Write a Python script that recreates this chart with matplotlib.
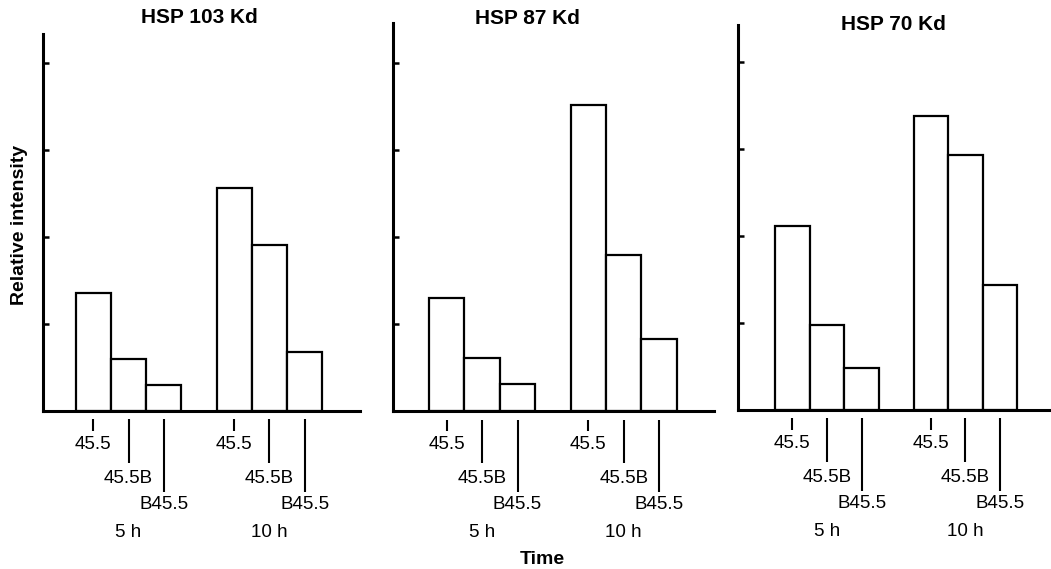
import matplotlib
matplotlib.use("Agg")
import matplotlib.pyplot as plt

plt.rcParams["font.family"] = ["Liberation Sans", "DejaVu Sans"]

titles = ["HSP 103 Kd", "HSP 87 Kd", "HSP 70 Kd"]
treatments = ["45.5", "45.5B", "B45.5"]
times = ["5 h", "10 h"]
hsp103 = [1.35, 0.59, 0.30, 2.56, 1.90, 0.67]
hsp87 = [1.30, 0.61, 0.31, 3.52, 1.79, 0.83]
hsp70 = [2.11, 0.97, 0.48, 3.38, 2.93, 1.43]
panels = [hsp103, hsp87, hsp70]

W, H = 1051, 569
# axes boxes in pixels: left, right, top, baseline
boxes = [(43.3, 360.0, 34.0, 410.7),
         (393.3, 714.3, 22.7, 411.0),
         (738.3, 1051.0, 25.0, 409.7)]
xlims = [(-1.42, 7.57), (-1.51, 7.56), (-1.56, 7.47)]
title_pos = [(199, 17.5), (527, 19), (893, 25)]

pos = [0, 1, 2, 4, 5, 6]
line_end = [-0.23, -0.60, -0.93]
text_y = [-0.39, -0.78, -1.08]
time_y = -1.40

fig = plt.figure(figsize=(W / 100, H / 100), dpi=100)

for k, vals in enumerate(panels):
    l, r, t, b = boxes[k]
    ax = fig.add_axes([l / W, 1 - b / H, (r - l) / W, (b - t) / H])
    ax.bar(pos, vals, width=1.0, color="white", edgecolor="black", lw=1.6)
    ax.set_xlim(*xlims[k])
    unit = (b - t) / 87.0
    ax.set_ylim(0, unit)
    ax.set_yticks([1, 2, 3, 4])
    ax.set_yticklabels([])
    ax.set_xticks([])
    ax.tick_params(axis="y", direction="in", length=4, width=1.8)
    for s in ["top", "right"]:
        ax.spines[s].set_visible(False)
    ax.spines["left"].set_linewidth(2.2)
    ax.spines["bottom"].set_linewidth(2.2)
    ax.spines["left"].set_capstyle("projecting")
    ax.spines["bottom"].set_capstyle("projecting")

    for g in range(2):
        for i, name in enumerate(treatments):
            x = pos[g * 3 + i]
            ax.plot([x, x], [-0.10, line_end[i]], color="black", lw=1.5,
                    clip_on=False, solid_capstyle="butt")
            ax.text(x, text_y[i], name, ha="center", va="center",
                    fontsize=13.5)
        ax.text(pos[g * 3 + 1], time_y, times[g], ha="center", va="center",
                fontsize=13.5)

    tx, ty = title_pos[k]
    fig.text(tx / W, 1 - ty / H, titles[k], ha="center", va="center",
             fontsize=15, fontweight="bold")

fig.text(20 / W, 1 - 225 / H, "Relative intensity", rotation=90,
         ha="center", va="center", fontsize=14, fontweight="bold")
fig.text(542 / W, 1 - 560 / H, "Time", ha="center", va="center",
         fontsize=14, fontweight="bold")

fig.savefig("out.png", dpi=100, facecolor="white")
